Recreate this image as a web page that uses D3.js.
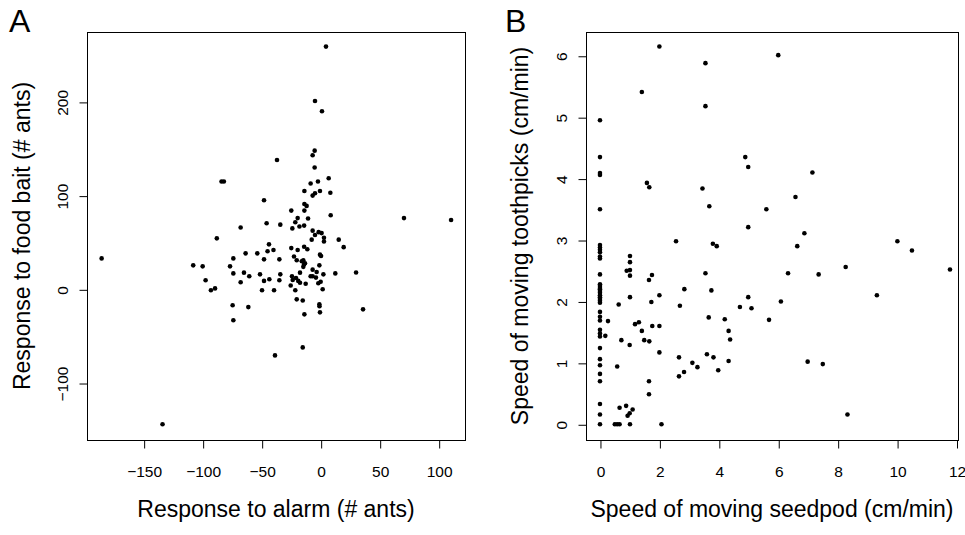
<!DOCTYPE html>
<html>
<head>
<meta charset="utf-8">
<script src="https://cdn.jsdelivr.net/npm/d3@7"></script>
<style>
  body { margin: 0; background: #fff; }
  svg { font-family: "Liberation Sans", Arial, sans-serif; }
</style>
</head>
<body>
<script>
// panel A: alarm response (x) vs food bait response (y), # ants
var alarmX = [4.5, -4.8, 1.1, -5.1, -6.8, -5.1, -37, -84, -82, 6.8, -8.5, -2.3, -13.8, -0.6, 8.2, -6.8, -4.8,
  -48, -24.9, -13.8, -11.9, -13.8, 8.5, 70.6, 110.5, -21.5, -19.5, -10.7, -45.8, -34.2, -24, -18, -14, -67.8,
  -6.8, -1.7, -4.8, 0.8, 2.8, 2.8, -7.6, 15.3, 19.5, -88, -43.8, -45, -40, -24.9, -19.5, -14, -11.3, 0.3, -0.6,
  -63.6, -53.7, -74, -48, -35, -22.6, -20.3, -16, -14, -14.7, -185.6, -108, -100, -76.8, -97.5, -93, -89.5,
  -74, -65, -60.5, -67.8, -51.4, -48, -43.5, -34.2, -35, -49.7, -39.5, -24.3, -17.5, -14.7, -13.3, -6.8, -3.4,
  -1.1, 2.3, -6.8, -4, -8.5, -23.7, -20.9, -19, -17.5, -25.4, -12.7, -2, 0, 1.7, -21.5, 12.4, 30, -74.6, -74,
  -61.3, -20.3, -15.2, -1.1, -0.6, -13.8, 35.9, -15.2, -38.7, -134, -1];
var foodY = [259, 201, 190, 148, 143, 130, 138, 115, 115, 118.5, 113, 115, 105, 105, 103, 100, 102.5,
  95, 84, 84, 89, 91, 79, 76, 74, 71.5, 76, 75.5, 70.5, 69, 65, 67, 68, 66,
  62.6, 61, 58, 60, 55, 51, 53, 53, 45, 54.4, 48, 40.6, 42, 44, 42, 45.5, 42.7, 35.6, 37,
  38.4, 38.4, 33, 32, 32, 35, 31, 30, 26.7, 31, 33, 25.6, 24.5, 24.5, 9.6, -1, 1,
  17, 17.8, 14, 7.5, 16, 9, 10.7, 16, 9.6, -1, -1, 14, 17.8, 24, 27.8, 21, 18.5,
  25.6, 16, 14, 12.5, 14, 10, 12, 9, 7, 4, 6, 6.4, 8, 0, -1, 17, 18, -17, -33,
  -19, -10.7, -12, -16, -24.6, -26.7, -21.4, -62, -70.5, -144, -18];

// panel B: seedpod speed (x) vs toothpick speed (y), cm/min
var seedpodX = [2.0, 3.55, 6.0, 1.41, 3.55, 0, 0, 0, 0, 1.58, 1.66, 3.45, 4.89, 4.99, 7.15, 3.68, 6.58, 5.6, 0,
  4.99, 6.88, 2.56, 10.01, 3.8, 3.93, 6.64, 10.5, 0, 0, 0, 0, 0, 0, 1.01, 1.01, 0.9, 1.01, 1.01, 8.27, 11.78,
  3.55, 6.33, 7.36, 1.75, 1.65, 0, 0, 0, 0, 0, 0, 0, 0, 0, 0, 0, 0, 2.84, 3.75, 2.0, 9.32, 1.01, 4.99, 1.73,
  6.09, 0.63, 2.69, 4.71, 5.1, 3.66, 5.69, 4.2, 0, 0, 0, 0, 0, 0, 0.27, 1.18, 1.31, 1.76, 2.0, 1.41, 4.33,
  0.18, 0.72, 1.49, 1.66, 4.38, 1.0, 0, 2.0, 3.6, 2.66, 3.82, 3.11, 4.33, 6.99, 7.5, 0, 0, 0.58, 3.28, 3.98,
  2.83, 2.66, 0, 0, 1.65, 1.65, 0, 0, 0, 0.88, 0.66, 1.1, 1.0, 0.93, 0.5, 0.58, 0.66, 1.01, 2.07, 8.33];
var toothpickY = [6.15, 5.88, 6.01, 5.41, 5.18, 4.95, 4.35, 4.09, 4.06, 3.93, 3.86, 3.84, 4.35, 4.19, 4.1, 3.55,
  3.7, 3.5, 3.5, 3.21, 3.11, 2.98, 2.98, 2.94, 2.9, 2.9, 2.83, 2.92, 2.88, 2.84, 2.8, 2.73, 2.7, 2.74, 2.64,
  2.5, 2.51, 2.42, 2.56, 2.52, 2.46, 2.46, 2.44, 2.43, 2.35, 2.44, 2.28, 2.25, 2.22, 2.2, 2.17, 2.14, 2.1,
  2.07, 2.04, 2.01, 1.98, 2.2, 2.18, 2.1, 2.1, 2.07, 2.07, 1.99, 2.0, 1.95, 1.93, 1.91, 1.89, 1.74, 1.7, 1.71,
  1.83, 1.75, 1.69, 1.54, 1.48, 1.43, 1.68, 1.63, 1.66, 1.6, 1.6, 1.52, 1.52, 1.44, 1.37, 1.37, 1.35, 1.38,
  1.29, 1.24, 1.17, 1.14, 1.09, 1.09, 1.0, 1.03, 1.02, 0.98, 1.06, 0.96, 0.94, 0.93, 0.88, 0.85, 0.78, 0.82,
  0.7, 0.7, 0.49, 0.33, 0.16, 0, 0.3, 0.27, 0.24, 0.18, 0.14, 0, 0, 0, 0, 0, 0.16];

var ticksAX = [-150, -100, -50, 0, 50, 100];
var ticksAY = [-100, 0, 100, 200];
var ticksBX = [0, 2, 4, 6, 8, 10, 12];
var ticksBY = [0, 1, 2, 3, 4, 5, 6];

var width = 965, height = 535;
var svg = d3.select('body').append('svg')
  .attr('width', width)
  .attr('height', height);

function drawPanel(p) {
  var x = d3.scaleLinear().domain(p.xDomain).range([p.left, p.right]);
  var y = d3.scaleLinear().domain(p.yDomain).range([p.bottom, p.top]);
  var g = svg.append('g');

  // box round the plot region
  g.append('rect')
    .attr('x', p.left + 0.5).attr('y', p.top + 0.5)
    .attr('width', p.right - p.left).attr('height', p.bottom - p.top)
    .attr('fill', 'none').attr('stroke', '#000').attr('stroke-width', 1);

  var xAxis = g.append('g')
    .attr('transform', 'translate(0.5,' + (p.bottom + 0.5) + ')')
    .call(d3.axisBottom(x).tickValues(p.xTicks).tickFormat(d3.format('d')).tickSize(8).tickPadding(17));
  xAxis.select('.domain').remove();
  xAxis.selectAll('text').attr('font-size', 15.5).attr('fill', '#000')
    .attr('font-family', '"Liberation Sans", Arial, sans-serif');

  var yAxis = g.append('g')
    .attr('transform', 'translate(' + (p.left + 0.5) + ',0.5)')
    .call(d3.axisLeft(y).tickValues(p.yTicks).tickFormat(d3.format('d')).tickSize(8));
  yAxis.select('.domain').remove();
  // R style: labels parallel to the axis
  yAxis.selectAll('text')
    .attr('transform', 'rotate(-90)')
    .attr('x', 0).attr('y', -20).attr('dy', 0)
    .attr('text-anchor', 'middle')
    .attr('font-size', 15.5).attr('fill', '#000')
    .attr('font-family', '"Liberation Sans", Arial, sans-serif');

  g.append('g').selectAll('circle').data(p.xs)
    .enter().append('circle')
    .attr('cx', function(d) { return x(d) })
    .attr('cy', function(d, i) { return y(p.ys[i]) })
    .attr('r', 2.3)
    .attr('fill', '#000');

  g.append('text')
    .attr('x', (p.left + p.right) / 2).attr('y', 517)
    .attr('text-anchor', 'middle').attr('font-size', 23)
    .text(p.xTitle);

  g.append('text')
    .attr('transform', 'translate(' + p.yTitleX + ',' + (p.top + p.bottom) / 2 + ') rotate(-90)')
    .attr('dy', '0.35em')
    .attr('text-anchor', 'middle').attr('font-size', 23)
    .text(p.yTitle);

  g.append('text')
    .attr('x', p.tagX).attr('y', 32)
    .attr('font-size', 32)
    .text(p.tag);
}

drawPanel({
  tag: 'A', tagX: 9,
  left: 87, right: 465, top: 32, bottom: 440,
  xDomain: [-198, 122.3], yDomain: [-160.8, 274.6],
  xTicks: ticksAX, yTicks: ticksAY,
  xs: alarmX, ys: foodY,
  xTitle: 'Response to alarm (# ants)',
  yTitle: 'Response to food bait (# ants)', yTitleX: 22
});

drawPanel({
  tag: 'B', tagX: 505,
  left: 586, right: 958, top: 32, bottom: 440,
  xDomain: [-0.47, 12.05], yDomain: [-0.256, 6.387],
  xTicks: ticksBX, yTicks: ticksBY,
  xs: seedpodX, ys: toothpickY,
  xTitle: 'Speed of moving seedpod (cm/min)',
  yTitle: 'Speed of moving toothpicks (cm/min)', yTitleX: 520
});
</script>
</body>
</html>
